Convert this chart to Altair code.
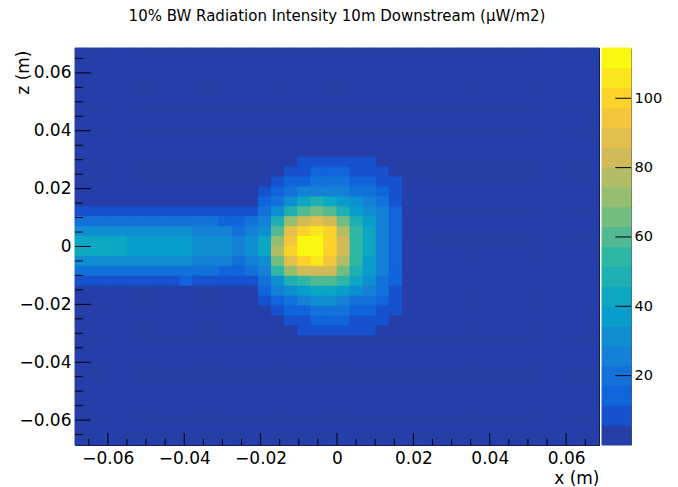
import altair as alt
import numpy as np
import pandas as pd

# ---------------------------------------------------------------------------
# Histogram binning: 40 x 40 bins over +-0.0686 m in x and z
# ---------------------------------------------------------------------------
half_range = 0.0686
n_bins = 40
bin_w = 2 * half_range / n_bins

# intensity floor (uW/m2) for all bins outside the beam spot
floor_level = 0.4

# Spot region: rows 11..28 from the top (z high -> low), columns 14..24
spot_first_row, spot_first_col = 11, 14
spot_values = [
    [0.4, 0.4, 0.4, 9, 9, 9, 9, 9, 9, 0.4, 0.4],
    [0.4, 0.4, 9, 9, 14, 14, 14, 9, 9, 9, 0.4],
    [0.4, 9, 14, 14, 20, 20, 20, 14, 14, 9, 9],
    [9, 14, 20, 26, 26, 26, 26, 20, 20, 14, 9],
    [14, 20, 31, 43, 49, 43, 37, 31, 26, 20, 9],
    [20, 31, 49, 60, 66, 60, 49, 37, 31, 26, 14],
    [26, 49, 72, 83, 89, 83, 66, 49, 37, 26, 14],
    [31, 60, 89, 100, 106, 100, 77, 54, 43, 26, 14],
    [43, 72, 94, 111, 113, 100, 83, 54, 43, 26, 14],
    [43, 77, 100, 112, 114.5, 100, 83, 54, 43, 26, 14],
    [31, 66, 89, 100, 106, 94, 77, 54, 37, 26, 14],
    [26, 54, 72, 83, 83, 83, 66, 49, 37, 26, 14],
    [20, 31, 49, 54, 60, 60, 54, 43, 31, 20, 14],
    [14, 26, 31, 37, 43, 43, 37, 31, 26, 20, 9],
    [9, 14, 20, 26, 31, 31, 26, 20, 20, 14, 9],
    [0.4, 9, 14, 14, 20, 20, 20, 14, 14, 9, 9],
    [0.4, 0.4, 9, 9, 14, 14, 14, 9, 9, 9, 0.4],
    [0.4, 0.4, 0.4, 9, 9, 9, 9, 9, 9, 0.4, 0.4],
]

# Beam tail: rows 16..23 from the top, columns 0..13
tail_first_row, tail_first_col = 16, 0
tail_values = [
    [9, 9, 9, 9, 9, 9, 9, 9, 9, 9, 9, 9, 9, 9],
    [20, 20, 20, 20, 20, 20, 20, 20, 20, 20, 20, 14, 14, 20],
    [31, 31, 31, 31, 31, 31, 31, 31, 31, 26, 26, 26, 20, 26],
    [43, 43, 43, 43, 37, 37, 37, 37, 37, 31, 31, 31, 26, 31],
    [43, 43, 43, 43, 37, 37, 37, 37, 37, 31, 31, 31, 26, 31],
    [31, 31, 31, 31, 31, 31, 31, 31, 31, 26, 26, 26, 20, 26],
    [20, 20, 20, 20, 20, 20, 20, 20, 20, 20, 20, 14, 14, 20],
    [9, 9, 9, 9, 9, 9, 9, 9, 14, 9, 9, 9, 9, 9],
]

# Axis tick values
x_major = [-0.06, -0.04, -0.02, 0, 0.02, 0.04, 0.06]
x_minor = [-0.065, -0.055, -0.05, -0.045, -0.035, -0.03, -0.025, -0.015, -0.01,
           -0.005, 0.005, 0.01, 0.015, 0.025, 0.03, 0.035, 0.045, 0.05, 0.055, 0.065]
z_major = [-0.06, -0.04, -0.02, 0, 0.02, 0.04, 0.06]
z_minor = x_minor
bar_ticks = [20, 40, 60, 80, 100]

# ---------------------------------------------------------------------------
# Colour palette (ROOT "bird"), 20 contour levels
# ---------------------------------------------------------------------------
stops = [0.0000, 0.1250, 0.2500, 0.3750, 0.5000, 0.6250, 0.7500, 0.8750, 1.0000]
red = [0.2082, 0.0592, 0.0780, 0.0232, 0.1802, 0.5301, 0.8186, 0.9956, 0.9764]
green = [0.1664, 0.3599, 0.5041, 0.6419, 0.7178, 0.7492, 0.7328, 0.7862, 0.9832]
blue = [0.5293, 0.8684, 0.8385, 0.7914, 0.6425, 0.4662, 0.3499, 0.1968, 0.0539]
n_palette = 255
n_levels = 20

gradient = []
for g in range(1, len(stops)):
    lo = int(np.floor(n_palette * stops[g - 1]))
    hi = int(np.floor(n_palette * stops[g]))
    n = hi - lo
    for c in range(n):
        t = c / n
        rgb = [ch[g - 1] + t * (ch[g] - ch[g - 1]) for ch in (red, green, blue)]
        gradient.append("#%02x%02x%02x" % tuple(int(round(v * 255)) for v in rgb))
level_colors = [gradient[int((k + 0.99) * n_palette / n_levels)] for k in range(n_levels)]

# ---------------------------------------------------------------------------
# Tables
# ---------------------------------------------------------------------------
grid = np.full((n_bins, n_bins), floor_level, dtype=float)
for i, row in enumerate(spot_values):
    for j, v in enumerate(row):
        grid[spot_first_row + i, spot_first_col + j] = v
for i, row in enumerate(tail_values):
    for j, v in enumerate(row):
        grid[tail_first_row + i, tail_first_col + j] = v

cells = []
for r in range(n_bins):
    for c in range(n_bins):
        x0 = -half_range + c * bin_w
        z1 = half_range - r * bin_w
        cells.append({"x0": x0, "x1": x0 + bin_w, "z0": z1 - bin_w, "z1": z1,
                      "value": grid[r, c]})
cells = pd.DataFrame(cells)

z_max = float(grid.max())
z_min = 0.0
band = (z_max - z_min) / n_levels
bands = pd.DataFrame({
    "lo": [z_min + k * band for k in range(n_levels)],
    "hi": [z_min + (k + 1) * band for k in range(n_levels)],
    "mid": [z_min + (k + 0.5) * band for k in range(n_levels)],
})

# ---------------------------------------------------------------------------
# Chart
# ---------------------------------------------------------------------------
W, H = 524, 397
FONT = "DejaVu Sans"

xs = alt.Scale(domain=[-half_range, half_range], nice=False, zero=False)
zs = alt.Scale(domain=[-half_range, half_range], nice=False, zero=False)
cs = alt.Scale(type="quantize", domain=[z_min, z_max], range=level_colors, nice=False, zero=False)
bs = alt.Scale(domain=[z_min, z_max], nice=False, zero=False)

label_expr = "datum.value == 0 ? '0' : format(datum.value, '.2f')"

x_axis = alt.Axis(
    values=x_major, labelExpr=label_expr, ticks=False, domain=False, grid=False,
    labelFontSize=17, labelFont=FONT, labelColor="black", labelPadding=5,
    title="x (m)", titleFont=FONT, titleFontSize=17, titleFontWeight="normal",
    titleColor="black", titleAnchor="end", titleAlign="right",
    titleBaseline="middle", titleX=W, titleY=33)
z_axis = alt.Axis(
    values=z_major, labelExpr=label_expr, ticks=False, domain=False, grid=False,
    labelFontSize=17, labelFont=FONT, labelColor="black", labelPadding=4,
    title="z (m)", titleFont=FONT, titleFontSize=17, titleFontWeight="normal",
    titleColor="black", titleAnchor="end", titleAngle=270, titleAlign="right",
    titleBaseline="middle", titleX=-52, titleY=2)

bar_left, bar_right = W + 3, W + 32
bar_axis = alt.Axis(
    orient="right", offset=bar_right - W, values=bar_ticks, ticks=False,
    domain=True, domainColor="#555555", domainWidth=1, grid=False,
    labelFontSize=14.5, labelFont=FONT, labelColor="black", labelPadding=3,
    title=None)

heat = alt.Chart(cells).mark_rect(strokeWidth=1).encode(
    x=alt.X("x0:Q", scale=xs, axis=x_axis, title="x (m)"),
    x2="x1:Q",
    y=alt.Y("z0:Q", scale=zs, axis=z_axis, title="z (m)"),
    y2="z1:Q",
    color=alt.Color("value:Q", scale=cs, legend=None),
    stroke=alt.Color("value:Q", scale=cs, legend=None),
)


def x_ticks(values, length):
    return alt.Chart(pd.DataFrame({"v": values})).mark_rule(color="black", strokeWidth=1).encode(
        x=alt.X("v:Q", scale=xs, axis=x_axis, title="x (m)"),
        y=alt.value(H), y2=alt.value(H - length))


def z_ticks(values, length):
    return alt.Chart(pd.DataFrame({"v": values})).mark_rule(color="black", strokeWidth=1).encode(
        y=alt.Y("v:Q", scale=zs, axis=z_axis, title="z (m)"),
        x=alt.value(0), x2=alt.value(length))


plot_layer = alt.layer(
    heat,
    x_ticks(x_major, 12), x_ticks(x_minor, 6),
    z_ticks(z_major, 15.7), z_ticks(z_minor, 7.9),
)

color_bar = alt.Chart(bands).mark_rect(strokeWidth=1).encode(
    y=alt.Y("lo:Q", scale=bs, axis=bar_axis, title=None),
    y2="hi:Q",
    x=alt.value(bar_left), x2=alt.value(bar_right),
    color=alt.Color("mid:Q", scale=cs, legend=None),
    stroke=alt.Color("mid:Q", scale=cs, legend=None),
)

bar_tick_marks = alt.Chart(pd.DataFrame({"v": bar_ticks})).mark_rule(
    color="black", strokeWidth=1).encode(
    y=alt.Y("v:Q", scale=bs, axis=bar_axis, title=None),
    x=alt.value(bar_right - 15.7), x2=alt.value(bar_right))

bar_layer = alt.layer(color_bar, bar_tick_marks)

chart = alt.layer(plot_layer, bar_layer).resolve_scale(
    y="independent"
).properties(
    width=W, height=H,
    title=alt.TitleParams(
        text="10% BW Radiation Intensity 10m Downstream (μW/m2)",
        font=FONT, fontSize=15, fontWeight="normal", color="black",
        anchor="middle", frame="group", offset=24),
    autosize=alt.AutoSizeParams(type="none"),
    padding={"left": 75, "top": 48, "right": 79, "bottom": 42},
    background="white",
).configure_view(stroke="black", strokeWidth=1, fill=level_colors[0])

chart.save("out.html", embed_options={"renderer": "svg", "actions": False})
